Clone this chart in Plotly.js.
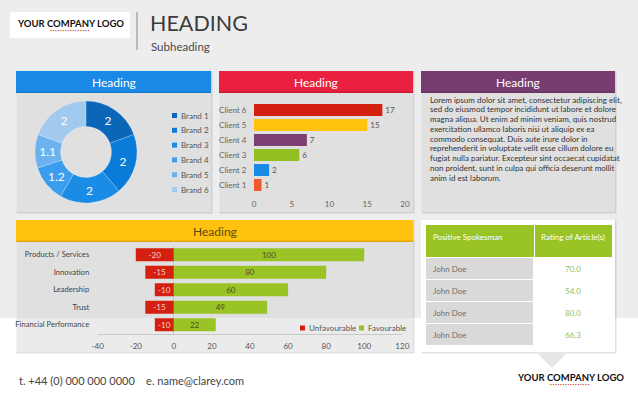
<!DOCTYPE html>
<html><head><meta charset="utf-8">
<script src="https://cdn.plot.ly/plotly-3.0.1.min.js"></script>
<style>html,body{margin:0;padding:0;background:#fff;}</style>
</head><body><div id="chart" style="width:638px;height:399px;"></div>
<script>
// ---------- data ----------
const brands = ['Brand 1','Brand 2','Brand 3','Brand 4','Brand 5','Brand 6'];
const brandValues = [2, 2, 2, 1.2, 1.1, 2];
const brandColors = ['#0b66b8','#0a7bd8','#1a8ce6','#3a9ded','#6cb2ee','#a2c9ee'];

const clients = ['Client 1','Client 2','Client 3','Client 4','Client 5','Client 6'];
const clientValues = [1, 2, 6, 7, 15, 17];
const clientColors = ['#ef5a2a','#1a8ae6','#92c023','#7b3f72','#ffc20e','#d42010'];

const attributes = ['Products / Services','Innovation','Leadership','Trust','Financial Performance'];
const unfavourable = [-20, -15, -10, -15, -10];
const favourable = [100, 80, 60, 49, 22];
const seriesNames = ['Unfavourable','Favourable'];
const divergingTicks = [-40, -20, 0, 20, 40, 60, 80, 100, 120];

const tableHeader = ['Positive Spokesman','Rating of Article(s)'];
const spokesmen = ['John Doe','John Doe','John Doe','John Doe'];
const ratings = [70.0, 54.0, 80.0, 66.3];

const loremLines = [
 'Lorem ipsum dolor sit amet, consectetur adipiscing elit,',
 'sed do eiusmod tempor incididunt ut labore et dolore',
 'magna aliqua. Ut enim ad minim veniam, quis nostrud',
 'exercitation ullamco laboris nisi ut aliquip ex ea',
 'commodo consequat. Duis aute irure dolor in',
 'reprehenderit in voluptate velit esse cillum dolore eu',
 'fugiat nulla pariatur. Excepteur sint occaecat cupidatat',
 'non proident, sunt in culpa qui officia deserunt mollit',
 'anim id est laborum.'
];

// ---------- helpers ----------
const W = 638, H = 399;
const px = x => x / W;
const py = y => 1 - y / H;
const FONT = 'Lato, "Open Sans", sans-serif';

const shapes = [];
const annotations = [];
function rect(x0, y0, x1, y1, fill, extra) {
  shapes.push(Object.assign({type:'rect', xref:'paper', yref:'paper', x0:px(x0), x1:px(x1), y0:py(y1), y1:py(y0),
    fillcolor:fill, line:{width:0}, layer:'below'}, extra||{}));
}
function text(x, y, t, size, color, anchor, extra) {
  annotations.push(Object.assign({xref:'paper', yref:'paper', x:px(x), y:py(y), text:t, showarrow:false,
    xanchor:anchor||'left', yanchor:'middle', font:{family:FONT, size:size, color:color}}, extra||{}));
}

// background
rect(0, 0, 638, 318, '#ededed');
rect(0, 318, 638, 399, '#ffffff');

// top logo
rect(10, 12, 130, 38, '#ffffff');
text(70, 23, '<b>YOUR COMPANY LOGO</b>', 9.5, '#111', 'center');
text(70, 31, '• • • • • • • • • • • • • • • •', 3, '#c0392b', 'center');
shapes.push({type:'line', xref:'paper', yref:'paper', x0:px(137), x1:px(137), y0:py(12), y1:py(50), line:{color:'#8a8a8a', width:1}, layer:'below'});
text(148, 23, 'HEADING', 21.5, '#3c3c3c', 'left');
text(149, 46, 'Subheading', 11.5, '#4a4a4a', 'left');

// cards
const cards = [
  {x0:16, y0:71, x1:211, y1:212, hy:93, hc:'#1a8ae6', tc:'#ffffff', body:'rgba(255,255,255,0.35)'},
  {x0:219, y0:71, x1:413, y1:212, hy:93, hc:'#e9203f', tc:'#ffffff', body:'rgba(255,255,255,0.35)'},
  {x0:421, y0:71, x1:615, y1:212, hy:93, hc:'#783d70', tc:'#ffffff', body:'rgba(255,255,255,0.35)'},
  {x0:16, y0:220, x1:413, y1:352, hy:242, hc:'#ffc20e', tc:'#5a4815', body:'rgba(255,255,255,0.35)'},
  {x0:421, y0:220, x1:615, y1:352, hy:null, hc:null, tc:null, body:'#ffffff'}
];
cards.forEach(c => {
  rect(c.x0+1, c.y0+1, c.x1+2, c.y1+2, 'rgba(0,0,0,0.05)');
  rect(c.x0, c.y0, c.x1+1, c.y1+1, 'rgba(0,0,0,0.07)');
  rect(c.x0, c.y0, c.x1, c.y1, c.body);
  if (c.hc) {
    rect(c.x0, c.y0, c.x1, c.hy, c.hc);
    rect(c.x0, c.hy-1.5, c.x1, c.hy, 'rgba(0,0,0,0.12)');
    text((c.x0+c.x1)/2, (c.y0+c.hy)/2, 'Heading', 12, c.tc, 'center');
  }
});
// pointer below table card
shapes.push({type:'path', xref:'paper', yref:'paper', path:`M ${px(536)} ${py(352)} L ${px(568)} ${py(352)} L ${px(552)} ${py(368)} Z`,
  fillcolor:'#e6e6e6', line:{width:0}, layer:'below'});

// lorem text, one line each
loremLines.forEach((ln, i) => text(428, 99.5 + i * 9.8, ln, 8, '#333', 'left'));

// pie legend (manual, compact)
brands.forEach((b, i) => {
  const yy = 115.5 + i * 14.8;
  rect(172, yy-2.5, 177, yy+2.5, brandColors[i], {layer:'above'});
  text(179, yy, b, 8, '#555', 'left');
});

// bar legend (manual, compact)
const legendItems = [{n:seriesNames[0], c:'#d42010', x:300}, {n:seriesNames[1], c:'#9ac325', x:359}];
legendItems.forEach(it => {
  rect(it.x, 325.5, it.x+5, 330.5, it.c, {layer:'above'});
  text(it.x+6.5, 328, it.n, 8, '#555', 'left');
});

// footer
text(17, 380, 't. +44 (0) 000 000 0000 &nbsp;&nbsp; e. name@clarey.com', 11, '#444', 'left');
text(570, 377, '<b>YOUR COMPANY LOGO</b>', 9.5, '#111', 'center');
text(570, 385, '• • • • • • • • • • • • • • • •', 3, '#c0392b', 'center');

// ---------- traces ----------
const traces = [];
traces.push({
  type:'pie', values:brandValues, labels:brands, hole:0.5, sort:false, direction:'clockwise', rotation:0,
  textinfo:'value', textposition:'inside', insidetextorientation:'horizontal',
  textfont:{family:FONT, size:12, color:'#ffffff'},
  marker:{colors:brandColors, line:{color:'rgba(255,255,255,0.35)', width:0.6}},
  domain:{x:[px(35), px(137)], y:[py(203), py(101)]}, showlegend:false, hoverinfo:'none'
});
traces.push({
  type:'bar', orientation:'h', x:clientValues, y:clients, width:0.8,
  marker:{color:clientColors}, text:clientValues.map(String), textposition:'outside', cliponaxis:false,
  textfont:{family:FONT, size:8, color:'#555'}, xaxis:'x', yaxis:'y', showlegend:false, hoverinfo:'none'
});
traces.push({
  type:'bar', orientation:'h', x:unfavourable, y:attributes, width:0.74, name:seriesNames[0],
  marker:{color:'#d42010'}, text:unfavourable.map(String), textposition:'inside', insidetextanchor:'middle',
  textangle:0, constraintext:'none', textfont:{family:FONT, size:8, color:'#f7d0c8'},
  xaxis:'x2', yaxis:'y2', showlegend:false, hoverinfo:'none'
});
traces.push({
  type:'bar', orientation:'h', x:favourable, y:attributes, width:0.74, name:seriesNames[1],
  marker:{color:'#9ac325'}, text:favourable.map(String), textposition:'inside', insidetextanchor:'middle',
  textangle:0, constraintext:'none', textfont:{family:FONT, size:8, color:'#4d4d2a'},
  xaxis:'x2', yaxis:'y2', showlegend:false, hoverinfo:'none'
});
traces.push({
  type:'table', columnwidth:[109, 78],
  domain:{x:[px(425), px(612.5)], y:[py(352), py(224.3)]},
  header:{values:tableHeader.map(h => '<br>' + h.replace(/ /g, '\u00a0')), height:33.4, align:['left','center'], fill:{color:'#9ac325'},
    line:{color:'#ffffff', width:1}, font:{family:FONT, size:8, color:'#ffffff'}},
  cells:{values:[spokesmen, ratings.map(v => v.toFixed(1))], height:22, align:['left','center'],
    fill:{color:[spokesmen.map(() => '#d9d9d9'), ratings.map(() => '#ffffff')]},
    line:{color:'#ffffff', width:1.5}, font:{family:FONT, size:8, color:['#6f6f6f','#8cbf5f']}},
  hoverinfo:'none'
});

const layout = {
  width:W, height:H, margin:{l:0, r:0, t:0, b:0},
  paper_bgcolor:'#ffffff', plot_bgcolor:'rgba(0,0,0,0)',
  barmode:'relative', showlegend:false,
  font:{family:FONT, size:8, color:'#555'},
  xaxis:{domain:[px(254), px(405)], range:[0, 20], dtick:5, showgrid:false, zeroline:false, showline:false,
    ticks:'outside', ticklen:4, tickcolor:'rgba(0,0,0,0)', tickfont:{family:FONT, size:8, color:'#666'}, anchor:'y', fixedrange:true},
  yaxis:{domain:[py(192.5), py(102.5)], type:'category', range:[-0.5, 5.5], showgrid:false, zeroline:false, showline:false,
    ticks:'outside', ticklen:5, tickcolor:'rgba(0,0,0,0)', tickfont:{family:FONT, size:8, color:'#666'}, anchor:'x', fixedrange:true},
  xaxis2:{domain:[px(97.7), px(402.3)], range:[-40, 120], tickmode:'array', tickvals:divergingTicks, ticktext:divergingTicks.map(String),
    showgrid:false, zeroline:true, zerolinecolor:'#c8c8c8', zerolinewidth:1,
    showline:true, linecolor:'#c8c8c8', linewidth:1, ticks:'outside', ticklen:5, tickcolor:'rgba(0,0,0,0)',
    tickfont:{family:FONT, size:8, color:'#555'}, anchor:'y2', fixedrange:true},
  yaxis2:{domain:[py(333.5), py(246)], type:'category', range:[4.5, -0.5], showgrid:false, zeroline:false, showline:false,
    ticks:'outside', ticklen:6, tickcolor:'rgba(0,0,0,0)', tickfont:{family:FONT, size:7.6, color:'#444'}, anchor:'x2', fixedrange:true},
  shapes:shapes, annotations:annotations
};

Plotly.newPlot('chart', traces, layout, {displayModeBar:false, staticPlot:true});
</script>
</body></html>
